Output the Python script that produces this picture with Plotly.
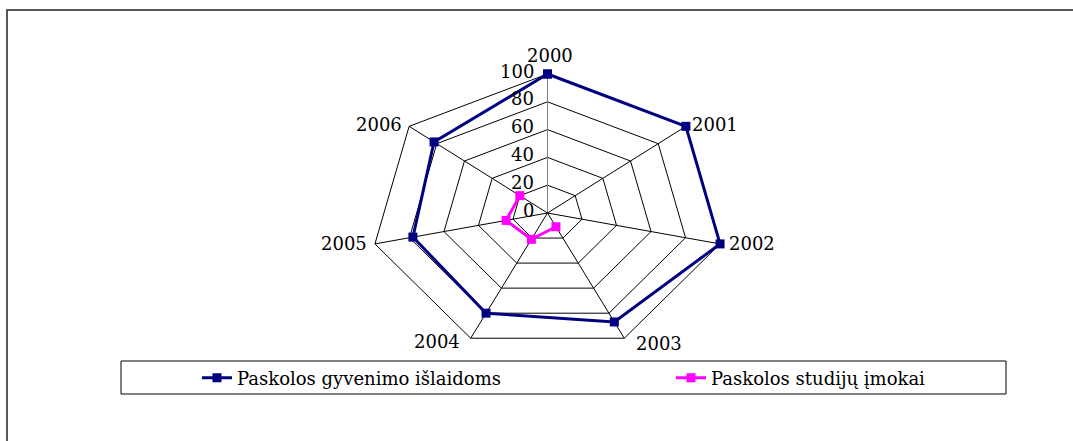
import math
import plotly.graph_objects as go

# Years shown around the radar
years = ["2000", "2001", "2002", "2003", "2004", "2005", "2006"]
# Loans for living expenses
living_costs = [100, 100, 100, 87, 80, 78, 82]
# Loans for tuition payments (no data for 2000-2002)
tuition = [None, None, None, 11, 21, 24, 20]
# Radial scale
radial_ticks = [0, 20, 40, 60, 80, 100]

W, H = 1073, 441
CX, CY = 547.5, 213.0          # pixel position of the radar centre
SX, SY = 1.77, 1.39            # pixels per radial unit (horizontal, vertical)

n = len(years)
angles = [2 * math.pi * i / n for i in range(n)]


def project(values, close=False):
    xs, ys = [], []
    for v, a in zip(values, angles):
        if v is None:
            xs.append(None)
            ys.append(None)
        else:
            xs.append(v * math.sin(a))
            ys.append(v * math.cos(a))
    if close:
        xs.append(xs[0])
        ys.append(ys[0])
    return xs, ys


fig = go.Figure()

# Polygon gridlines
for t in radial_ticks[1:]:
    gx, gy = project([t] * n, close=True)
    fig.add_trace(go.Scatter(x=gx, y=gy, mode="lines",
                             line=dict(color="black", width=1),
                             hoverinfo="skip", showlegend=False))

# Spokes
rmax = radial_ticks[-1]
for i, a in enumerate(angles):
    fig.add_trace(go.Scatter(x=[0, rmax * math.sin(a)], y=[0, rmax * math.cos(a)],
                             mode="lines",
                             line=dict(color="#808080" if i == 0 else "black", width=1),
                             hoverinfo="skip", showlegend=False))

# Data series
lx, ly = project(living_costs, close=True)
fig.add_trace(go.Scatter(x=lx, y=ly, mode="lines+markers",
                         name="Paskolos gyvenimo išlaidoms", legend="legend",
                         line=dict(color="#000080", width=3),
                         marker=dict(symbol="square", size=9, color="#000080")))
tx, ty = project(tuition)
fig.add_trace(go.Scatter(x=tx, y=ty, mode="lines+markers",
                         name="Paskolos studijų įmokai", legend="legend2",
                         line=dict(color="#FF00FF", width=3),
                         marker=dict(symbol="square", size=9, color="#FF00FF")))

FONT = dict(family="DejaVu Serif, Liberation Serif, serif", size=18, color="black")

annotations = []
# Radial tick labels along the first spoke
for t in radial_ticks:
    annotations.append(dict(x=0, y=t, text=str(t), showarrow=False,
                            xanchor="right", yanchor="middle",
                            xshift=-12, yshift=3, font=FONT))

# Category labels
label_style = [
    dict(xanchor="center", yanchor="bottom", xshift=2, yshift=6),
    dict(xanchor="left", yanchor="middle", xshift=4, yshift=2),
    dict(xanchor="left", yanchor="middle", xshift=7, yshift=0),
    dict(xanchor="left", yanchor="middle", xshift=10, yshift=-5),
    dict(xanchor="right", yanchor="middle", xshift=-9, yshift=-3),
    dict(xanchor="right", yanchor="middle", xshift=-6, yshift=0),
    dict(xanchor="right", yanchor="middle", xshift=-5, yshift=2),
]
for yr, a, st in zip(years, angles, label_style):
    annotations.append(dict(x=rmax * math.sin(a), y=rmax * math.cos(a), text=yr,
                            showarrow=False, font=FONT, **st))

shapes = [
    # chart area border
    dict(type="rect", xref="paper", yref="paper",
         x0=7 / W, x1=1.02, y0=-0.02, y1=1 - 10 / H,
         line=dict(color="#222222", width=1.5), fillcolor="rgba(0,0,0,0)"),
    # legend frame
    dict(type="rect", xref="paper", yref="paper",
         x0=121 / W, x1=1006 / W, y0=1 - 394 / H, y1=1 - 361 / H,
         line=dict(color="black", width=1), fillcolor="rgba(0,0,0,0)"),
]

legend_common = dict(orientation="h", xanchor="left", yanchor="middle",
                     y=1 - 378 / H, font=FONT,
                     bgcolor="rgba(0,0,0,0)", borderwidth=0)

fig.update_layout(
    width=W, height=H,
    margin=dict(l=0, r=0, t=0, b=0),
    paper_bgcolor="white", plot_bgcolor="white",
    xaxis=dict(range=[-CX / SX, (W - CX) / SX], visible=False, fixedrange=True),
    yaxis=dict(range=[-(H - CY) / SY, CY / SY], visible=False, fixedrange=True),
    showlegend=True,
    legend=dict(x=197 / W, **legend_common),
    legend2=dict(x=671 / W, **legend_common),
    annotations=annotations,
    shapes=shapes,
)

fig.write_html("out.html")
